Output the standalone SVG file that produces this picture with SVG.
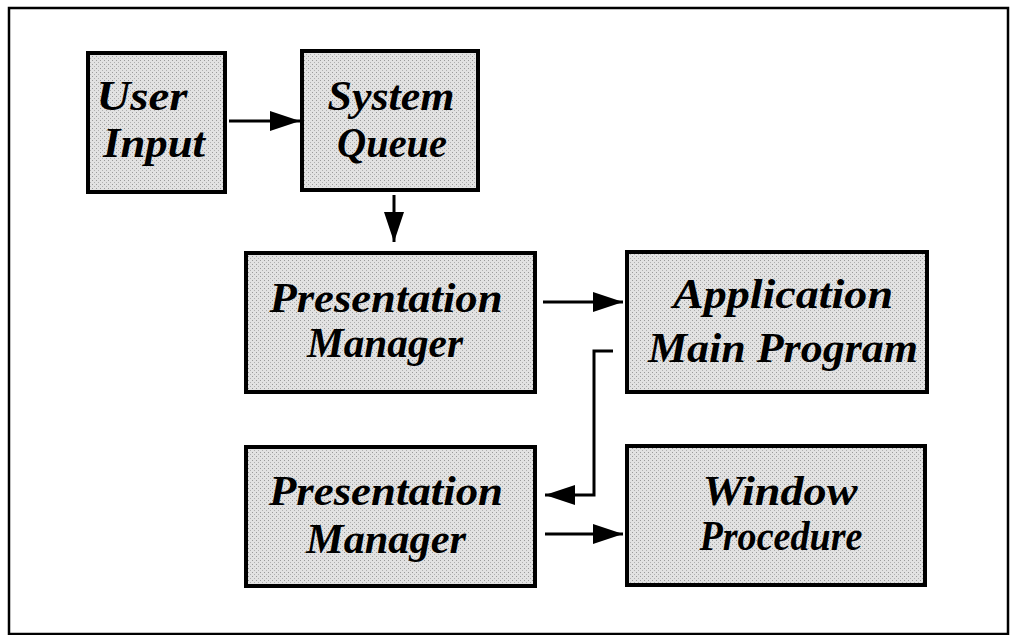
<svg xmlns="http://www.w3.org/2000/svg" width="1014" height="635" viewBox="0 0 1014 635">
  <defs>
    <marker id="ah" markerUnits="userSpaceOnUse" markerWidth="32" markerHeight="24" refX="30" refY="10" orient="auto">
      <path d="M0,0 L30,10 L0,20 Z" fill="#000"/>
    </marker>
    <pattern id="stip" width="4" height="4" patternUnits="userSpaceOnUse">
      <rect width="4" height="4" fill="#e2e2e2"/>
      <rect x="0" y="0" width="1" height="1" fill="#9a9a9a"/>
      <rect x="2" y="2" width="1" height="1" fill="#b0b0b0"/>
    </pattern>
  </defs>
  <style>
    .box { fill: url(#stip); stroke: #000; stroke-width: 4; }
    .lbl { font-family: "Liberation Serif", "DejaVu Serif", serif; font-weight: bold; font-style: italic; font-size: 42px; fill: #000; text-anchor: middle; }
    .conn { stroke: #000; stroke-width: 3; fill: none; marker-end: url(#ah); }
    .frame { fill: #fff; stroke: #000; stroke-width: 2.5; }
  </style>
  <rect width="1014" height="635" fill="#fff"/>
  <rect class="frame" x="9" y="8" width="999" height="626"/>

  <g id="user-input">
    <rect class="box" x="88" y="53" width="137" height="139"/>
    <text class="lbl" x="142" y="110" textLength="91" lengthAdjust="spacingAndGlyphs">User</text>
    <text class="lbl" x="154" y="157" textLength="102" lengthAdjust="spacingAndGlyphs">Input</text>
  </g>
  <g id="system-queue">
    <rect class="box" x="302" y="51" width="176" height="139"/>
    <text class="lbl" x="391" y="110" textLength="127" lengthAdjust="spacingAndGlyphs">System</text>
    <text class="lbl" x="392" y="157" textLength="110" lengthAdjust="spacingAndGlyphs">Queue</text>
  </g>
  <g id="presentation-manager-1">
    <rect class="box" x="246" y="253" width="289" height="139"/>
    <text class="lbl" x="386" y="312" textLength="233" lengthAdjust="spacingAndGlyphs">Presentation</text>
    <text class="lbl" x="385" y="357" textLength="156" lengthAdjust="spacingAndGlyphs">Manager</text>
  </g>
  <g id="application-main-program">
    <rect class="box" x="627" y="252" width="300" height="140"/>
    <text class="lbl" x="783" y="308" textLength="220" lengthAdjust="spacingAndGlyphs">Application</text>
    <text class="lbl" x="783" y="362" textLength="270" lengthAdjust="spacingAndGlyphs">Main Program</text>
  </g>
  <g id="presentation-manager-2">
    <rect class="box" x="246" y="447" width="289" height="139"/>
    <text class="lbl" x="386" y="505" textLength="234" lengthAdjust="spacingAndGlyphs">Presentation</text>
    <text class="lbl" x="386" y="553" textLength="160" lengthAdjust="spacingAndGlyphs">Manager</text>
  </g>
  <g id="window-procedure">
    <rect class="box" x="627" y="446" width="298" height="139"/>
    <text class="lbl" x="780" y="505" textLength="155" lengthAdjust="spacingAndGlyphs">Window</text>
    <text class="lbl" x="781" y="550" textLength="163" lengthAdjust="spacingAndGlyphs">Procedure</text>
  </g>

  <g id="connectors">
    <line class="conn" x1="229" y1="121" x2="300" y2="121"/>
    <line class="conn" x1="394" y1="195" x2="394" y2="242"/>
    <line class="conn" x1="543" y1="302" x2="623" y2="302"/>
    <path class="conn" d="M613,351 H594 V495 H545"/>
    <line class="conn" x1="545" y1="534" x2="623" y2="534"/>
  </g>
</svg>
